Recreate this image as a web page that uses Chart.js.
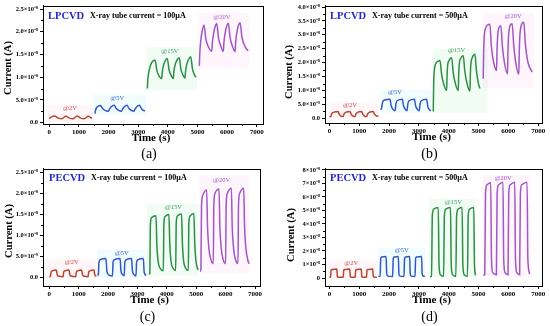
<!DOCTYPE html>
<html>
<head>
<meta charset="utf-8">
<script src="https://cdn.jsdelivr.net/npm/chart.js@4.4.0/dist/chart.umd.min.js"></script>
<style>
  html, body { margin: 0; padding: 0; background: #fff; }
  #wrap { position: relative; width: 550px; height: 326px; background: #fff; }
  #wrap canvas { position: absolute; }
</style>
</head>
<body>
<div id="wrap">
  <canvas id="pa" width="275" height="163" style="left:0;top:0"></canvas>
  <canvas id="pb" width="275" height="163" style="left:275px;top:0"></canvas>
  <canvas id="pc" width="275" height="163" style="left:0;top:163px"></canvas>
  <canvas id="pd" width="275" height="163" style="left:275px;top:163px"></canvas>
</div>
<script>
// time in s, current in units of 1e-8 A

var xTicks = [0, 1000, 2000, 3000, 4000, 5000, 6000, 7000];
var biasLabels = ['@2V', '@5V', '@15V', '@20V'];

var yTicksAC = [0, 0.5, 1.0, 1.5, 2.0, 2.5];
var yLabelsAC = ['0.0', '5.0×10⁻⁹', '1.0×10⁻⁸', '1.5×10⁻⁸', '2.0×10⁻⁸', '2.5×10⁻⁸'];
var yTicksB = [0, 0.5, 1.0, 1.5, 2.0, 2.5, 3.0, 3.5, 4.0];
var yLabelsB = ['0.0', '5.0×10⁻⁹', '1.0×10⁻⁸', '1.5×10⁻⁸', '2.0×10⁻⁸', '2.5×10⁻⁸', '3.0×10⁻⁸', '3.5×10⁻⁸', '4.0×10⁻⁸'];
var yTicksD = [0, 1, 2, 3, 4, 5, 6, 7, 8];
var yLabelsD = ['0', '1×10⁻⁸', '2×10⁻⁸', '3×10⁻⁸', '4×10⁻⁸', '5×10⁻⁸', '6×10⁻⁸', '7×10⁻⁸', '8×10⁻⁸'];

// (a) LPCVD, 100 uA
var aT2 = [0, 60, 180, 300, 420, 560, 680, 800, 940, 1060, 1180, 1320, 1440];
var aI2 = [0.09, 0.12, 0.145, 0.10, 0.085, 0.14, 0.10, 0.085, 0.145, 0.10, 0.085, 0.14, 0.09];
var aT5 = [1543, 1560, 1600, 1660, 1730, 1800, 1880, 1990, 2030, 2090, 2190, 2260, 2340, 2430, 2470, 2530, 2620, 2690, 2770, 2850, 2890, 2950, 3040, 3110, 3170, 3230];
var aI5 = [0.2, 0.27, 0.33, 0.37, 0.38, 0.31, 0.27, 0.25, 0.29, 0.35, 0.385, 0.31, 0.27, 0.25, 0.29, 0.35, 0.385, 0.31, 0.27, 0.25, 0.29, 0.35, 0.385, 0.31, 0.27, 0.26];
var aT15 = [3309, 3325, 3360, 3420, 3490, 3568, 3630, 3700, 3793, 3810, 3850, 3910, 3982, 4040, 4110, 4185, 4200, 4240, 4310, 4387, 4440, 4510, 4580, 4595, 4635, 4700, 4772, 4830, 4890, 4951];
var aI15 = [0.75, 0.95, 1.12, 1.27, 1.35, 1.38, 1.15, 1.03, 0.97, 1.1, 1.25, 1.36, 1.41, 1.17, 1.04, 0.97, 1.1, 1.26, 1.38, 1.43, 1.18, 1.05, 0.98, 1.11, 1.27, 1.39, 1.45, 1.19, 1.06, 1.0];
var aT20 = [5062, 5080, 5110, 5160, 5221, 5280, 5360, 5481, 5500, 5540, 5590, 5650, 5710, 5790, 5873, 5890, 5930, 5980, 6042, 6100, 6180, 6268, 6285, 6325, 6375, 6437, 6500, 6600, 6706];
var aI20 = [1.25, 1.55, 1.8, 2.02, 2.15, 1.85, 1.68, 1.57, 1.75, 1.95, 2.1, 2.18, 1.86, 1.68, 1.57, 1.75, 1.96, 2.11, 2.19, 1.87, 1.68, 1.56, 1.75, 1.97, 2.12, 2.2, 1.88, 1.68, 1.58];

// (b) LPCVD, 500 uA
var bT2 = [0, 50, 80, 130, 290, 330, 390, 460, 490, 540, 690, 730, 790, 860, 890, 940, 1080, 1120, 1180, 1250, 1280, 1330, 1470, 1510, 1570, 1640];
var bI2 = [0.05, 0.08, 0.17, 0.21, 0.24, 0.14, 0.08, 0.06, 0.16, 0.21, 0.24, 0.14, 0.08, 0.06, 0.16, 0.21, 0.24, 0.14, 0.08, 0.06, 0.16, 0.21, 0.24, 0.14, 0.09, 0.07];
var bT5 = [1730, 1760, 1790, 1830, 2030, 2070, 2130, 2200, 2230, 2270, 2445, 2485, 2545, 2600, 2630, 2670, 2850, 2890, 2950, 3010, 3040, 3080, 3260, 3300, 3360, 3400];
var bI5 = [0.3, 0.45, 0.6, 0.65, 0.68, 0.45, 0.32, 0.27, 0.52, 0.63, 0.68, 0.45, 0.32, 0.27, 0.52, 0.63, 0.68, 0.45, 0.32, 0.27, 0.52, 0.63, 0.68, 0.42, 0.3, 0.26];
var bT15 = [3483, 3495, 3515, 3560, 3640, 3707, 3760, 3840, 3931, 3945, 3965, 4010, 4099, 4150, 4230, 4321, 4335, 4355, 4400, 4488, 4540, 4620, 4712, 4726, 4746, 4790, 4880, 4930, 4990, 5047];
var bI15 = [0.24, 1.2, 1.7, 1.95, 2.05, 2.08, 1.6, 1.2, 1.0, 1.55, 1.9, 2.08, 2.18, 1.65, 1.22, 1.0, 1.55, 1.95, 2.15, 2.25, 1.7, 1.23, 0.98, 1.55, 1.97, 2.18, 2.3, 1.72, 1.28, 1.07];
var bT20 = [5158, 5170, 5190, 5240, 5310, 5382, 5430, 5500, 5606, 5620, 5640, 5680, 5750, 5800, 5870, 5974, 5988, 6008, 6050, 6129, 6180, 6250, 6353, 6367, 6387, 6430, 6520, 6570, 6650, 6800];
var bI20 = [1.42, 2.3, 2.9, 3.25, 3.36, 3.38, 2.6, 2.05, 1.72, 2.4, 2.9, 3.25, 3.33, 2.6, 2.0, 1.6, 2.4, 2.95, 3.3, 3.4, 2.65, 2.0, 1.58, 2.4, 2.95, 3.32, 3.45, 2.7, 2.05, 1.66];

// (c) PECVD, 100 uA
var cT2 = [0, 40, 60, 100, 240, 270, 330, 470, 490, 530, 670, 700, 760, 900, 920, 960, 1100, 1130, 1190, 1320, 1340, 1380, 1520, 1550, 1600];
var cI2 = [0.02, 0.03, 0.13, 0.16, 0.18, 0.07, 0.03, 0.02, 0.13, 0.16, 0.18, 0.07, 0.03, 0.02, 0.13, 0.16, 0.18, 0.07, 0.03, 0.02, 0.13, 0.16, 0.18, 0.06, 0.03];
var cT5 = [1640, 1670, 1690, 1730, 1930, 1960, 2030, 2150, 2170, 2210, 2410, 2440, 2510, 2550, 2570, 2610, 2800, 2830, 2900, 2950, 2970, 3010, 3200, 3230, 3300];
var cI5 = [0.05, 0.08, 0.36, 0.42, 0.45, 0.15, 0.06, 0.04, 0.36, 0.42, 0.45, 0.15, 0.06, 0.04, 0.36, 0.42, 0.45, 0.15, 0.06, 0.04, 0.36, 0.42, 0.45, 0.12, 0.05];
var cT15 = [3390, 3420, 3440, 3480, 3630, 3660, 3700, 3770, 3880, 3900, 3940, 4070, 4100, 4140, 4210, 4300, 4320, 4360, 4500, 4530, 4570, 4640, 4730, 4750, 4790, 4920, 4950, 4990, 5060];
var cI15 = [0.08, 0.1, 1.25, 1.42, 1.47, 0.8, 0.4, 0.22, 0.16, 1.3, 1.45, 1.5, 0.8, 0.4, 0.22, 0.17, 1.3, 1.46, 1.51, 0.8, 0.4, 0.22, 0.17, 1.3, 1.46, 1.52, 0.8, 0.4, 0.18];
var cT20 = [5130, 5160, 5180, 5220, 5355, 5385, 5430, 5500, 5580, 5600, 5640, 5775, 5805, 5850, 5920, 6000, 6020, 6060, 6195, 6225, 6270, 6340, 6420, 6440, 6480, 6615, 6645, 6690, 6760, 6800];
var cI20 = [0.14, 0.2, 1.7, 1.95, 2.08, 1.2, 0.7, 0.42, 0.33, 1.75, 2.0, 2.1, 1.2, 0.7, 0.42, 0.33, 1.75, 2.0, 2.12, 1.2, 0.7, 0.42, 0.33, 1.75, 2.0, 2.12, 1.2, 0.7, 0.4, 0.33];

// (d) PECVD, 500 uA
var dT2 = [0, 35, 55, 90, 245, 265, 300, 460, 480, 515, 680, 700, 735, 860, 880, 915, 1065, 1085, 1120, 1240, 1260, 1295, 1450, 1470, 1505, 1590];
var dI2 = [0.05, 0.06, 0.58, 0.63, 0.66, 0.12, 0.06, 0.05, 0.58, 0.63, 0.66, 0.12, 0.06, 0.05, 0.58, 0.63, 0.66, 0.12, 0.06, 0.05, 0.58, 0.63, 0.66, 0.12, 0.06, 0.05];
var dT5 = [1640, 1700, 1720, 1755, 1900, 1920, 1955, 2120, 2140, 2175, 2310, 2330, 2365, 2500, 2520, 2555, 2690, 2710, 2745, 2870, 2890, 2925, 3090, 3110, 3145, 3200];
var dI5 = [0.12, 0.13, 1.45, 1.56, 1.6, 0.3, 0.14, 0.12, 1.45, 1.56, 1.6, 0.3, 0.14, 0.12, 1.45, 1.56, 1.6, 0.3, 0.14, 0.12, 1.45, 1.56, 1.6, 0.3, 0.14, 0.12];
var dT15 = [3370, 3425, 3450, 3500, 3650, 3675, 3720, 3830, 3855, 3905, 4060, 4085, 4130, 4240, 4265, 4315, 4450, 4475, 4520, 4630, 4655, 4705, 4840, 4865, 4900];
var dI15 = [0.1, 0.12, 4.6, 5.1, 5.22, 1.0, 0.25, 0.12, 4.6, 5.1, 5.22, 1.0, 0.25, 0.12, 4.6, 5.1, 5.22, 1.0, 0.25, 0.12, 4.6, 5.1, 5.22, 1.0, 0.2];
var dT20 = [5158, 5210, 5235, 5285, 5410, 5435, 5480, 5600, 5625, 5675, 5820, 5845, 5890, 5990, 6015, 6065, 6215, 6240, 6285, 6380, 6405, 6455, 6630, 6655, 6720];
var dI20 = [0.22, 0.25, 6.3, 6.9, 7.05, 1.4, 0.4, 0.25, 6.3, 6.9, 7.08, 1.4, 0.4, 0.25, 6.3, 6.9, 7.08, 1.4, 0.4, 0.25, 6.3, 6.9, 7.08, 1.4, 0.3];

var SERIF = '"Liberation Serif", "Times New Roman", serif';
var lineColors = ['#b8472c', '#3458c6', '#2e8e45', '#a158c2'];
var labelColors = ['#cc4a4a', '#3b66c9', '#3aa062', '#a652cb'];
var boxFills = ['rgba(255,170,200,0.11)', 'rgba(140,235,245,0.13)', 'rgba(150,235,175,0.13)', 'rgba(245,165,235,0.11)'];

var decor = {
  id: 'decor',
  beforeDatasetsDraw: function(chart, args, o) {
    var ctx = chart.ctx, x = chart.scales.x, y = chart.scales.y, a = chart.chartArea;
    ctx.save();
    ctx.beginPath();
    ctx.rect(a.left, a.top, a.right - a.left, a.bottom - a.top);
    ctx.clip();
    o.boxes.forEach(function(b, k) {
      var x0 = x.getPixelForValue(b[0]), x1 = x.getPixelForValue(b[1]);
      var y0 = y.getPixelForValue(b[2]), y1 = y.getPixelForValue(b[3]);
      ctx.fillStyle = boxFills[k];
      ctx.fillRect(x0, y1, x1 - x0, y0 - y1);
    });
    ctx.restore();
  },
  afterDraw: function(chart, args, o) {
    var ctx = chart.ctx, x = chart.scales.x, y = chart.scales.y, a = chart.chartArea;
    ctx.save();
    // frame
    ctx.strokeStyle = '#000';
    ctx.lineWidth = 1;
    ctx.strokeRect(Math.round(a.left) + 0.5, Math.round(a.top) + 0.5, Math.round(a.right - a.left), Math.round(a.bottom - a.top));
    // minor ticks
    ctx.beginPath();
    for (var i = 0; i < xTicks.length - 1; i++) {
      var px = Math.round(x.getPixelForValue((xTicks[i] + xTicks[i + 1]) / 2)) + 0.5;
      ctx.moveTo(px, a.bottom); ctx.lineTo(px, a.bottom + 2);
    }
    var yt = o.yTicks;
    for (var j = 0; j < yt.length - 1; j++) {
      var py = Math.round(y.getPixelForValue((yt[j] + yt[j + 1]) / 2)) + 0.5;
      ctx.moveTo(a.left, py); ctx.lineTo(a.left - 2, py);
    }
    ctx.stroke();

    // bias labels at data positions
    ctx.textAlign = 'center';
    ctx.textBaseline = 'middle';
    ctx.font = '6.5px ' + SERIF;
    o.tags.forEach(function(t, k) {
      ctx.fillStyle = labelColors[k];
      ctx.fillText(biasLabels[k], x.getPixelForValue(t[0]), y.getPixelForValue(t[1]));
    });

    // headings
    ctx.textAlign = 'left';
    ctx.fillStyle = '#2424cc';
    ctx.font = 'bold 10.5px ' + SERIF;
    ctx.fillText(o.method, a.left + o.headX, o.headY);
    ctx.fillStyle = '#000';
    ctx.font = 'bold 8px ' + SERIF;
    ctx.fillText(o.tube, a.left + o.headX + 42, o.headY);

    // axis titles and panel letter
    ctx.textAlign = 'center';
    ctx.font = 'bold 11px ' + SERIF;
    ctx.fillText('Time (s)', (a.left + a.right) / 2 - 2, a.bottom + 14);
    ctx.font = '14px ' + SERIF;
    ctx.fillText(o.letter, (a.left + a.right) / 2 - 4, 154);
    ctx.save();
    ctx.translate(o.ytitle[0], o.ytitle[1]);
    ctx.rotate(-Math.PI / 2);
    ctx.font = 'bold 10.5px ' + SERIF;
    ctx.fillText('Current (A)', 0, 0);
    ctx.restore();
    ctx.restore();
  }
};

function makePanel(id, p) {
  var datasets = p.series.map(function(s, k) {
    return {
      data: s[0].map(function(t, i) { return {x: t, y: s[1][i]}; }),
      borderColor: lineColors[k],
      borderWidth: 1.5,
      pointRadius: 0,
      fill: false,
      cubicInterpolationMode: 'monotone'
    };
  });
  var area = p.area; // left, top, right, bottom
  return new Chart(document.getElementById(id), {
    type: 'line',
    data: {datasets: datasets},
    options: {
      responsive: false,
      animation: false,
      devicePixelRatio: 1,
      layout: {padding: {left: 0, top: area[1], right: 275 - area[2], bottom: 163 - area[3] - 14}},
      plugins: {
        legend: {display: false},
        tooltip: {enabled: false},
        decor: {
          boxes: p.boxes, tags: p.tags, yTicks: p.yTicks, method: p.method, tube: p.tube,
          letter: p.letter, headX: p.headX, headY: p.headY, ytitle: p.ytitle
        }
      },
      scales: {
        x: {
          type: 'linear',
          min: p.xr[0], max: p.xr[1],
          afterBuildTicks: function(s) { s.ticks = xTicks.map(function(v) { return {value: v}; }); },
          afterFit: function(s) { s.height = 14; },
          grid: {drawOnChartArea: false, tickLength: 3, color: '#000', tickWidth: 1},
          border: {color: '#000', width: 1},
          ticks: {
            color: '#000', padding: 1, maxRotation: 0, autoSkip: false,
            font: {family: SERIF, size: 7, weight: 'bold'},
            callback: function(v) { return String(v); }
          }
        },
        y: {
          type: 'linear',
          min: p.yr[0], max: p.yr[1],
          afterBuildTicks: function(s) { s.ticks = p.yTicks.map(function(v) { return {value: v}; }); },
          afterFit: function(s) { s.width = area[0]; },
          grid: {drawOnChartArea: false, tickLength: 3, color: '#000', tickWidth: 1},
          border: {color: '#000', width: 1},
          ticks: {
            color: '#000', padding: 2, autoSkip: false,
            font: {family: SERIF, size: 6.5, weight: 'bold'},
            callback: function(v) { return p.yLabels[p.yTicks.indexOf(v)]; }
          }
        }
      }
    },
    plugins: [decor]
  });
}

makePanel('pa', {
  series: [[aT2, aI2], [aT5, aI5], [aT15, aI15], [aT20, aI20]],
  area: [43, 4, 263, 124], xr: [-210, 7210], yr: [-0.03, 2.57],
  yTicks: yTicksAC, yLabels: yLabelsAC,
  boxes: [[-50, 1470, 0.02, 0.4], [1500, 3260, 0.18, 0.62], [3280, 4980, 0.72, 1.66], [5040, 6740, 1.2, 2.42]],
  tags: [[700, 0.32], [2290, 0.54], [4070, 1.58], [5820, 2.33]],
  method: 'LPCVD', tube: 'X-ray tube current = 100µA', letter: '(a)',
  headX: 5, headY: 16, ytitle: [8.5, 68]
});

makePanel('pb', {
  series: [[bT2, bI2], [bT5, bI5], [bT15, bI15], [bT20, bI20]],
  area: [50, 5, 267, 123], xr: [-150, 7130], yr: [-0.17, 4.04],
  yTicks: yTicksB, yLabels: yLabelsB,
  boxes: [[0, 1650, 0.0, 0.55], [1720, 3420, 0.2, 1.03], [3460, 5300, 0.2, 2.5], [5140, 6850, 1.1, 3.78]],
  tags: [[690, 0.47], [2200, 0.95], [4266, 2.43], [6163, 3.68]],
  method: 'LPCVD', tube: 'X-ray tube current = 500µA', letter: '(b)',
  headX: 5, headY: 16, ytitle: [14, 72]
});

makePanel('pc', {
  series: [[cT2, cI2], [cT5, cI5], [cT15, cI15], [cT20, cI20]],
  area: [43, 4, 260, 123], xr: [-214, 7170], yr: [-0.2, 2.58],
  yTicks: yTicksAC, yLabels: yLabelsAC,
  boxes: [[-30, 1620, 0.0, 0.45], [1620, 3330, 0.0, 0.66], [3330, 5060, 0.05, 1.76], [5100, 6810, 0.1, 2.42]],
  tags: [[762, 0.36], [2463, 0.57], [4219, 1.66], [5866, 2.32]],
  method: 'PECVD', tube: 'X-ray tube current = 100µA', letter: '(c)',
  headX: 6, headY: 15, ytitle: [9, 68]
});

makePanel('pd', {
  series: [[dT2, dI2], [dT5, dI5], [dT15, dI15], [dT20, dI20]],
  area: [50, 5, 267, 123], xr: [-150, 7130], yr: [-0.59, 8.07],
  yTicks: yTicksD, yLabels: yLabelsD,
  boxes: [[-50, 1610, 0.0, 1.3], [1620, 3220, 0.05, 2.25], [3350, 4900, 0.05, 5.85], [5140, 6740, 0.1, 7.62]],
  tags: [[727, 1.1], [2425, 2.03], [4153, 5.63], [5827, 7.41]],
  method: 'PECVD', tube: 'X-ray tube current = 500µA', letter: '(d)',
  headX: 5, headY: 15, ytitle: [16, 72]
});
</script>
</body>
</html>
